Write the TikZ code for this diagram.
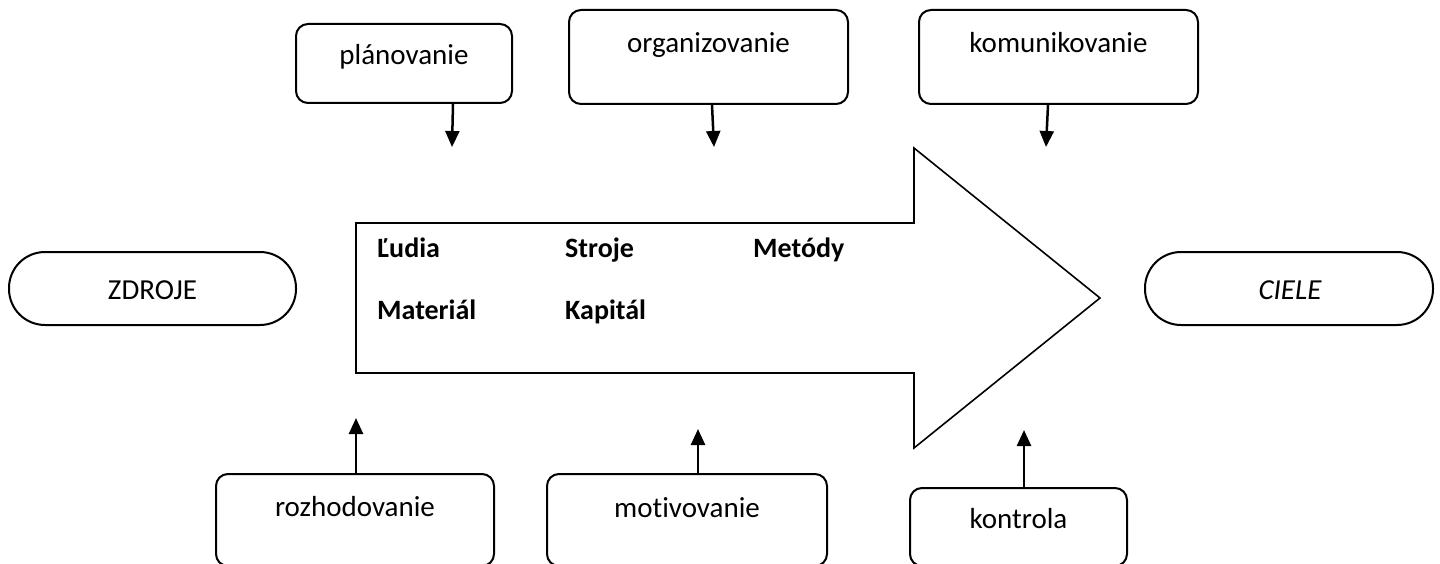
\documentclass[tikz,border=0pt]{standalone}
\usepackage{fontspec}
\setmainfont{Carlito}[Ligatures=NoCommon]
\usetikzlibrary{arrows.meta}
\begin{document}
\begin{tikzpicture}[x=1pt,y=-1pt,
  box/.style={draw, line width=2pt, rounded corners=12pt, inner sep=0pt},
  pill/.style={draw, line width=2pt, rounded corners=36pt, inner sep=0pt},
  lbl/.style={anchor=base, inner sep=0pt, font=\fontsize{29}{35}\selectfont},
  res/.style={anchor=base west, inner sep=0pt, font=\fontsize{28}{34}\selectfont\bfseries},
  conn/.style={line width=2.5pt, -{Triangle[width=14pt,length=16pt]}},
  bigarrow/.style={draw, line width=1.6pt, line join=miter}]
\clip (0,0) rectangle (1440,564);
\useasboundingbox (0,0) rectangle (1440,564);

% top boxes
\node[box, minimum width=216pt, minimum height=79pt] (plan) at (404,63.5) {};
\node[lbl] (planT) at (404,65) {plánovanie};
\node[box, minimum width=279pt, minimum height=94pt] (org) at (708.5,57) {};
\node[lbl] (orgT) at (708.5,53) {organizovanie};
\node[box, minimum width=279pt, minimum height=94pt] (kom) at (1058.5,57) {};
\node[lbl] (komT) at (1058.5,53) {komunikovanie};

% side pills
\node[pill, minimum width=287pt, minimum height=73pt] (zdroje) at (152.5,288.5) {};
\node[lbl] (zdrojeT) at (152.5,299) {ZDROJE};
\node[pill, minimum width=288pt, minimum height=73pt] (ciele) at (1289,288.5) {};
\node[lbl] (cieleT) at (1290,299) {\itshape CIELE};

% bottom boxes
\node[box, minimum width=278pt, minimum height=92pt] (roz) at (355,520) {};
\node[lbl] (rozT) at (355,516) {rozhodovanie};
\node[box, minimum width=280pt, minimum height=92pt] (mot) at (687,520) {};
\node[lbl] (motT) at (687,517) {motivovanie};
\node[box, minimum width=217pt, minimum height=78pt] (kon) at (1018.5,527) {};
\node[lbl] (konT) at (1018.5,528) {kontrola};

% big arrow
\draw[bigarrow] (356,223) -- (914,223) -- (914,148) -- (1100,298) -- (914,448)
  -- (914,373) -- (356,373) -- cycle;

% resources
\node[res] (ludia) at (377,257) {Ľudia};
\node[res] (stroje) at (565,257) {Stroje};
\node[res] (metody) at (753,257) {Metódy};
\node[res] (material) at (377,319) {Materiál};
\node[res] (kapital) at (565,319) {Kapitál};

% connectors
\coordinate (planE) at (452,147);
\coordinate (orgE) at (714,147);
\coordinate (komE) at (1046,147);
\coordinate (rozE) at (356,418);
\coordinate (motE) at (698,429);
\coordinate (konE) at (1024,430);
\draw[conn] ([xshift=49pt]plan.south) -- (planE);
\draw[conn] ([xshift=3.5pt]org.south) -- (orgE);
\draw[conn] ([xshift=-10.5pt]kom.south) -- (komE);
\draw[conn] ([xshift=1pt]roz.north) -- (rozE);
\draw[conn] ([xshift=11pt]mot.north) -- (motE);
\draw[conn] ([xshift=5.5pt]kon.north) -- (konE);
\end{tikzpicture}
\end{document}
